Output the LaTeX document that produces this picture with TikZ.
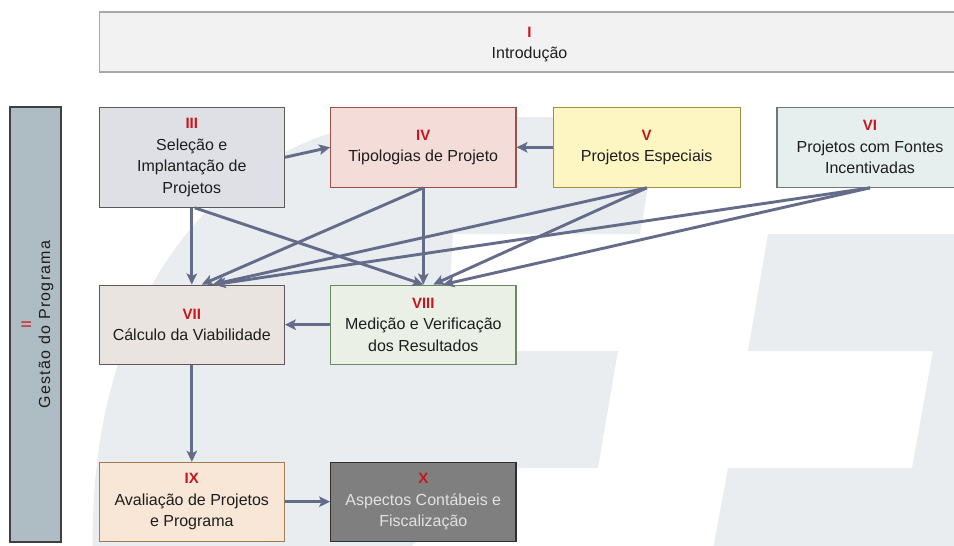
\documentclass[tikz,border=0pt]{standalone}
\usepackage{fontspec}
\setmainfont{Liberation Sans}
\usetikzlibrary{arrows.meta,calc}
\definecolor{numred}{HTML}{C8161D}
\definecolor{txt}{HTML}{1E1E1E}
\definecolor{arrc}{HTML}{646C8A}
\definecolor{logo}{HTML}{E9EDF0}
\definecolor{fI}{HTML}{F2F2F2}\definecolor{dI}{HTML}{A8A8A8}
\definecolor{fII}{HTML}{ADBDC3}\definecolor{dII}{HTML}{404040}
\definecolor{fIII}{HTML}{DFE0E6}\definecolor{dIII}{HTML}{5A5A5A}
\definecolor{fIV}{HTML}{F4DDD8}\definecolor{dIV}{HTML}{A0504A}
\definecolor{fV}{HTML}{FDF6C3}\definecolor{dV}{HTML}{A09040}
\definecolor{fVI}{HTML}{E6EEEE}\definecolor{dVI}{HTML}{6A7A7A}
\definecolor{fVII}{HTML}{E9E4E0}\definecolor{dVII}{HTML}{605858}
\definecolor{fVIII}{HTML}{EAF0E6}\definecolor{dVIII}{HTML}{6A8A60}
\definecolor{fIX}{HTML}{F8E6D6}\definecolor{dIX}{HTML}{A07A50}
\definecolor{fX}{HTML}{7F7F7F}\definecolor{dX}{HTML}{303030}\definecolor{tX}{HTML}{E2E2E2}
\newcommand\romn[1]{{\fontsize{15}{21.5}\selectfont\bfseries\color{numred}#1}}
\begin{document}
\begin{tikzpicture}[x=1pt,y=-1pt,
  box/.style={draw, line width=1.1pt, inner sep=0pt, align=center, text=txt,
    font=\fontsize{16}{21.5}\selectfont},
  arr/.style={draw=arrc, line width=2.9pt, -{Stealth[length=11pt,width=10.5pt,inset=2.5pt]}}]
\useasboundingbox (0,0) rectangle (954,546);
% background logo
\fill[logo] (660,117) -- (640,234) -- (453,234) -- (446,351) -- (618,351) -- (598,468)
  -- (520,468) .. controls (470,500) and (430,530) .. (395,560) -- (93,560)
  .. controls (85,300) and (220,125) .. (420,117) -- cycle;
\fill[logo] (768,234) -- (965,234) -- (965,560) -- (711,560) -- (728,468) -- (912,468)
  -- (933,351) -- (748,351) -- cycle;
% nodes
\node[box, draw=dI, fill=fI, minimum width=860.4pt, minimum height=60pt]
  (I) at (529.5,42) {};
\node[align=center, text=txt, font=\fontsize{16}{21.5}\selectfont, inner sep=0pt]
  (Itxt) at (529.5,44.5) {\romn{I}\\Introdução};
\node[box, draw=dII, fill=fII, rotate=90, minimum width=435pt, minimum height=51pt]
  (II) at (35.5,324.5) {};
\node[rotate=90, align=center, text=txt, inner sep=0pt, font=\fontsize{16}{19}\selectfont]
  (IItxt) at (37.5,324.5) {{\fontsize{14}{19}\selectfont\color{numred}II}\\{\addfontfeature{LetterSpace=8}Gestão do Programa}};
\node[box, draw=dIII, fill=fIII, minimum width=185pt, minimum height=100pt]
  (III) at (191.8,157.3) {\romn{III}\\Seleção e\\Implantação de\\Projetos};
\node[box, draw=dIV, fill=fIV, minimum width=185.3pt, minimum height=80pt]
  (IV) at (423.3,147.3) {\romn{IV}\\Tipologias de Projeto};
\node[box, draw=dV, fill=fV, minimum width=186.7pt, minimum height=80pt]
  (V) at (646.7,147.3) {\romn{V}\\Projetos Especiais};
\node[box, draw=dVI, fill=fVI, minimum width=186pt, minimum height=80pt]
  (VI) at (870,147.3) {\romn{VI}\\Projetos com Fontes\\Incentivadas};
\node[box, draw=dVII, fill=fVII, minimum width=185pt, minimum height=79.3pt]
  (VII) at (191.8,324.7) {\romn{VII}\\Cálculo da Viabilidade};
\node[box, draw=dVIII, fill=fVIII, minimum width=185.3pt, minimum height=79.3pt]
  (VIII) at (423.3,324.7) {\romn{VIII}\\Medição e Verificação\\dos Resultados};
\node[box, draw=dIX, fill=fIX, minimum width=185pt, minimum height=78.7pt]
  (IX) at (191.8,501.7) {\romn{IX}\\Avaliação de Projetos\\e Programa};
\node[box, draw=dX, fill=fX, text=tX, minimum width=185.3pt, minimum height=78.7pt]
  (X) at (423.3,501.7) {\romn{X}\\Aspectos Contábeis e\\Fiscalização};
% connectors
\draw[arr] (III.east) -- (IV.west);
\draw[arr] (V.west) -- (IV.east);
\draw[arr] (III.south) -- (VII.north);
\draw[arr] ([xshift=3pt]III.south) -- (VIII.north);
\draw[arr] (IV.south) -- ([xshift=10pt]VII.north);
\draw[arr] (IV.south) -- (VIII.north);
\draw[arr] (V.south) -- ([xshift=21pt]VII.north);
\draw[arr] (V.south) -- ([xshift=10pt]VIII.north);
\draw[arr] (VI.south) -- ([xshift=23pt]VII.north);
\draw[arr] (VI.south) -- ([xshift=20pt]VIII.north);
\draw[arr] (VIII.west) -- (VII.east);
\draw[arr] (VII.south) -- (IX.north);
\draw[arr] (IX.east) -- (X.west);
\end{tikzpicture}
\end{document}
